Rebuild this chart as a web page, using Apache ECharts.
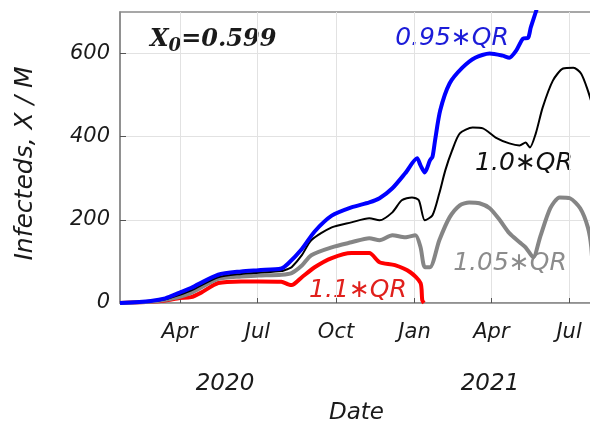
<!DOCTYPE html>
<html>
<head>
<meta charset="utf-8">
<script src="https://cdn.jsdelivr.net/npm/echarts@6/dist/echarts.min.js"></script>
<style>
  html, body { margin: 0; padding: 0; background: #fff; }
  #main { width: 590px; height: 421px; }
</style>
</head>
<body>
<div id="main"></div>
<script>
// values (infecteds per million)
var blueDates = ['2020-01-22','2020-02-27','2020-03-15','2020-04-01','2020-04-14','2020-05-16','2020-06-12','2020-07-02','2020-07-29','2020-08-06','2020-08-22','2020-09-06','2020-09-26','2020-10-19','2020-11-09','2020-11-21','2020-12-06','2020-12-21','2021-01-04','2021-01-08','2021-01-13','2021-01-19','2021-01-22','2021-01-25','2021-01-31','2021-02-11','2021-02-26','2021-03-13','2021-03-30','2021-04-14','2021-04-22','2021-04-30','2021-05-08','2021-05-14','2021-05-17','2021-05-23','2021-06-01']
var blueVals  = [0,5,11,25,36,68,76,79,83,95,130,172,210,230,242,252,276,312,348,331,314,343,352,391,463,528,566,590,600,595,590,607,636,638,662,700,760]

var blackDates = ['2020-01-22','2020-02-27','2020-03-15','2020-04-01','2020-04-14','2020-05-16','2020-06-12','2020-07-02','2020-07-29','2020-08-06','2020-08-10','2020-08-22','2020-09-02','2020-09-26','2020-10-19','2020-11-09','2020-11-21','2020-12-06','2020-12-17','2020-12-29','2021-01-06','2021-01-13','2021-01-22','2021-01-30','2021-02-06','2021-02-14','2021-02-23','2021-03-10','2021-03-22','2021-04-06','2021-04-22','2021-05-04','2021-05-11','2021-05-16','2021-05-23','2021-05-31','2021-06-12','2021-06-24','2021-07-06','2021-07-15','2021-07-23','2021-07-29']
var blackVals  = [0,4,9,20,30,62,70,73,77,82,86,115,151,182,194,204,199,218,247,254,247,199,211,264,319,367,408,422,420,398,384,379,386,374,408,470,535,564,566,552,511,470]

var grayDates = ['2020-01-22','2020-02-27','2020-03-15','2020-04-01','2020-04-14','2020-05-16','2020-06-12','2020-07-02','2020-07-29','2020-08-10','2020-08-22','2020-09-02','2020-09-26','2020-10-19','2020-11-09','2020-11-21','2020-12-06','2020-12-21','2021-01-02','2021-01-08','2021-01-13','2021-01-19','2021-01-30','2021-02-11','2021-02-23','2021-03-06','2021-03-18','2021-03-30','2021-04-11','2021-04-22','2021-05-04','2021-05-11','2021-05-20','2021-05-28','2021-06-09','2021-06-20','2021-07-02','2021-07-14','2021-07-23','2021-07-27','2021-07-29']
var grayVals  = [0,3,8,15,24,58,64,66,68,72,90,115,134,146,156,151,163,158,163,134,86,86,151,206,235,242,240,228,199,168,146,134,110,158,228,254,252,228,182,134,60]

var redDates = ['2020-01-22','2020-02-27','2020-03-15','2020-04-01','2020-04-14','2020-04-26','2020-05-16','2020-06-12','2020-07-02','2020-07-29','2020-08-06','2020-08-10','2020-08-22','2020-09-06','2020-09-26','2020-10-19','2020-11-09','2020-11-21','2020-12-09','2020-12-27','2021-01-08','2021-01-10','2021-01-12']
var redVals  = [0,3,6,12,14,25,48,52,52,51,45,43,62,86,108,120,120,98,91,74,48,7,0]

var xTickDates  = ['2020-04-01','2020-07-01','2020-10-01','2021-01-01','2021-04-01','2021-07-01']
var xTickLabels = ['Apr','Jul','Oct','Jan','Apr','Jul']
var yTicks = [0, 200, 400, 600]

function t(s) {
  var p = s.split('-')
  return Date.UTC(+p[0], +p[1] - 1, +p[2])
}
function pairs(dates, vals) {
  var out = []
  for (var i = 0; i < dates.length; i++) {
    out.push([t(dates[i]), vals[i]])
  }
  return out
}
var tickTimes = xTickDates.map(t)

function line(name, dates, vals, color, width) {
  return {
    name: name,
    type: 'line',
    data: pairs(dates, vals),
    showSymbol: false,
    smooth: 0.25,
    clip: true,
    lineStyle: { color: color, width: width },
    z: 3
  }
}

var myChart = echarts.init(document.getElementById('main'))
var option = {
  animation: false,
  grid: {
    left: 120, top: 12, right: -3, bottom: 118,
    outerBoundsMode: 'none', containLabel: false,
    show: true, borderColor: '#8a8a8a', borderWidth: 1.5
  },
  xAxis: {
    type: 'value',
    min: t('2020-01-22'),
    max: t('2021-07-29'),
    name: 'Date',
    nameLocation: 'middle',
    nameGap: 99,
    nameTextStyle: { fontFamily: 'DejaVu Sans', fontStyle: 'italic', fontSize: 23, color: '#1a1a1a' },
    axisLine: { lineStyle: { color: '#8a8a8a', width: 1.5 } },
    axisTick: { show: true, inside: true, length: 5, customValues: tickTimes, lineStyle: { color: '#555' } },
    splitLine: { show: true, lineStyle: { color: '#e2e2e2' } },
    axisLabel: {
      customValues: tickTimes,
      margin: 19,
      fontFamily: 'DejaVu Sans', fontStyle: 'italic', fontSize: 21, color: '#1a1a1a',
      formatter: function(v) {
        var i = tickTimes.indexOf(v)
        return i >= 0 ? xTickLabels[i] : ''
      }
    }
  },
  yAxis: {
    type: 'value',
    min: 0, max: 700, interval: 100,
    name: 'Infecteds, X / M',
    nameLocation: 'middle',
    nameGap: 82,
    nameTextStyle: { fontFamily: 'DejaVu Sans', fontStyle: 'italic', fontSize: 25, color: '#1a1a1a', padding: [0, 12, 0, 0] },
    axisLine: { show: true, lineStyle: { color: '#8a8a8a', width: 1.5 } },
    axisTick: { show: true, inside: true, length: 6, customValues: yTicks, lineStyle: { color: '#555' } },
    splitLine: { show: true, lineStyle: { color: '#e2e2e2' } },
    axisLabel: {
      customValues: yTicks,
      margin: 10,
      fontFamily: 'DejaVu Sans', fontStyle: 'italic', fontSize: 21, color: '#1a1a1a'
    }
  },
  series: [
    line('1.1*QR', redDates, redVals, '#ff0000', 4),
    line('1.05*QR', grayDates, grayVals, '#858585', 4),
    line('1.0*QR', blackDates, blackVals, '#000000', 2),
    line('0.95*QR', blueDates, blueVals, '#0000ff', 4)
  ],
  graphic: [
    { type: 'text', x: 150, y: 40, style: {
        text: '{a|X}{b|0}{a|=0.599}', textVerticalAlign: 'middle',
        rich: {
          a: { fontFamily: 'DejaVu Serif', fontStyle: 'italic', fontWeight: 'bold', fontSize: 24, fill: '#1a1a1a' },
          b: { fontFamily: 'DejaVu Serif', fontStyle: 'italic', fontWeight: 'bold', fontSize: 18, fill: '#1a1a1a', padding: [12, 0, 0, 0] }
        } } },
    { type: 'text', x: 452, y: 38, style: { text: '0.95\u2217QR', textAlign: 'center', textVerticalAlign: 'middle', font: 'italic 25px "DejaVu Sans"', fill: '#1c1cd8' } },
    { type: 'text', x: 524, y: 163, style: { text: '1.0\u2217QR', textAlign: 'center', textVerticalAlign: 'middle', font: 'italic 25px "DejaVu Sans"', fill: '#111' } },
    { type: 'text', x: 510, y: 263, style: { text: '1.05\u2217QR', textAlign: 'center', textVerticalAlign: 'middle', font: 'italic 25px "DejaVu Sans"', fill: '#8c8c8c' } },
    { type: 'text', x: 358, y: 290, style: { text: '1.1\u2217QR', textAlign: 'center', textVerticalAlign: 'middle', font: 'italic 25px "DejaVu Sans"', fill: '#e0201c' } },
    { type: 'text', x: 225, y: 384, style: { text: '2020', textAlign: 'center', textVerticalAlign: 'middle', font: 'italic 23px "DejaVu Sans"', fill: '#1a1a1a' } },
    { type: 'text', x: 490, y: 384, style: { text: '2021', textAlign: 'center', textVerticalAlign: 'middle', font: 'italic 23px "DejaVu Sans"', fill: '#1a1a1a' } }
  ]
}
myChart.setOption(option)
</script>
</body>
</html>
